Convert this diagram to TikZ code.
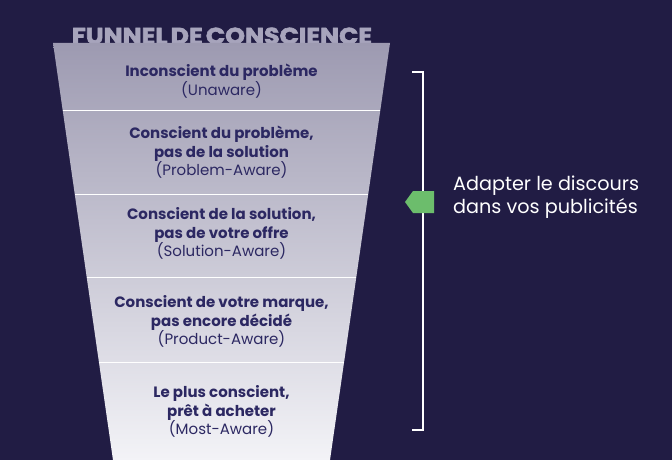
\documentclass[tikz,border=0pt]{standalone}
\usepackage{fontspec}
\setmainfont{Poppins}
\newfontfamily\titlefont{Poppins}[UprightFont={* Bold}, RawFeature={embolden=2.5}]
\usetikzlibrary{calc}
\definecolor{bg}{HTML}{211C44}
\definecolor{ftop}{HTML}{9D9AB1}
\definecolor{fbot}{HTML}{F3F3F7}
\definecolor{ttl}{HTML}{A7A4BC}
\definecolor{ink}{HTML}{2C2862}
\definecolor{arrowgreen}{HTML}{6CBD6C}
\tikzset{
  stage/.style={align=center, text=ink, font=\fontsize{15}{18.5}\selectfont, inner sep=0pt},
  divider/.style={draw=white, line width=1pt},
  bracket/.style={draw=white, line width=1.4pt},
  side/.style={align=left, text=white, font=\fontsize{19.2}{23.5}\selectfont, anchor=west, inner sep=0pt},
}
\begin{document}
\begin{tikzpicture}[x=1pt,y=-1pt]
\fill[bg] (0,0) rectangle (672,460);
\useasboundingbox (0,0) rectangle (672,460);
% title
\node[text=ttl, font=\fontsize{23}{23}\selectfont\titlefont, anchor=base, inner sep=0pt] (title) at (222,44) {\scalebox{1.10}[1]{FUNNEL\kern-2pt\ DE\kern-2pt\ CONSCIENCE}};
% funnel
\coordinate (tl) at (53,43);
\coordinate (tr) at (390,43);
\coordinate (bl) at (113,460);
\coordinate (br) at (330,460);
\shade[top color=ftop, bottom color=fbot] (tl) -- (tr) -- (br) -- (bl) -- cycle;
\foreach \t in {0.1607,0.3645,0.5612,0.7650}
  \draw[divider] ($(tl)!\t!(bl)$) -- ($(tr)!\t!(br)$);
% stage texts
\node[stage] (s1) at (221.5,81) {\textbf{Inconscient du problème}\\(Unaware)};
\node[stage] (s2) at (221.5,152.5) {\textbf{Conscient du problème,}\\\textbf{pas de la solution}\\(Problem-Aware)};
\node[stage] (s3) at (221.5,233.5) {\textbf{Conscient de la solution,}\\\textbf{pas de votre offre}\\(Solution-Aware)};
\node[stage] (s4) at (221.5,321.5) {\textbf{Conscient de votre marque,}\\\textbf{pas encore décidé}\\(Product-Aware)};
\node[stage] (s5) at (221.5,411.5) {\textbf{Le plus conscient,}\\\textbf{prêt à acheter}\\(Most-Aware)};
% bracket
\coordinate (b1) at (412,72);
\coordinate (b2) at (423,72);
\coordinate (b3) at (423,430);
\coordinate (b4) at (412,430);
\draw[bracket] (b1) -- (b2) -- (b3) -- (b4);
% green arrow
\fill[arrowgreen] (405,202) -- (413,191) -- (434,191) -- (434,213) -- (413,213) -- cycle;
% side text
\node[side] (note) at (453,197) {Adapter le discours\\dans vos publicités};
\end{tikzpicture}
\end{document}
